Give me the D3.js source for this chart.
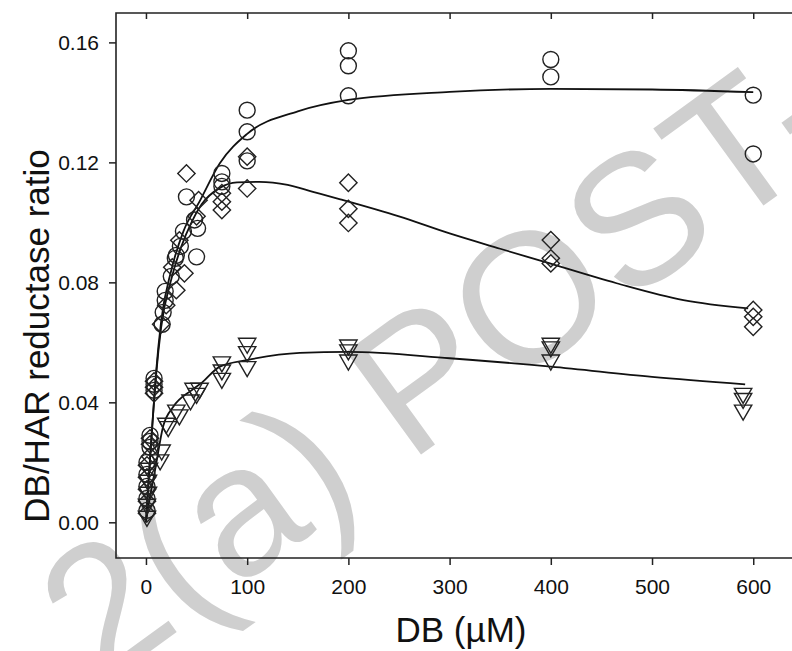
<!DOCTYPE html>
<html>
<head>
<meta charset="utf-8">
<script src="https://cdn.jsdelivr.net/npm/d3@7"></script>
<style>
  body { margin: 0; background: #fff; }
  text { font-family: "Liberation Sans", Arial, sans-serif; }
</style>
</head>
<body>
<div id="chart"></div>
<script>
// measured points, DB concentration (uM) vs DB/HAR reductase ratio
var circlePts = [
  [1,0.004],[1,0.008],[1,0.012],[1,0.016],[1,0.020],
  [4,0.025],[4,0.027],[4,0.029],
  [8,0.044],[8,0.046],[8,0.048],
  [16,0.066],[17,0.070],[19,0.074],[19,0.077],
  [25,0.082],[29,0.088],[30,0.089],[34,0.092],[37,0.097],
  [40,0.1085],[48,0.1008],[51,0.098],[50,0.0885],
  [75,0.1163],[75,0.1135],[75,0.112],
  [100,0.1374],[100,0.1302],[100,0.1205],
  [200,0.1572],[200,0.1522],[200,0.1422],
  [400,0.1543],[400,0.1485],
  [600,0.1424],[600,0.1228]
];
var diamondPts = [
  [1,0.003],[1,0.007],[1,0.011],[1,0.015],[1,0.019],
  [4,0.022],[4,0.026],[4,0.028],
  [8,0.043],[8,0.045],[8,0.047],
  [15,0.066],[20,0.0724],[30,0.0774],[26,0.085],[38,0.083],[33,0.094],
  [40,0.1163],[52,0.1074],[50,0.102],
  [75,0.1097],[75,0.1069],[75,0.1041],
  [100,0.1219],[100,0.1113],
  [200,0.1132],[200,0.1045],[200,0.0998],
  [400,0.0941],[400,0.088],[400,0.0863],
  [600,0.0708],[600,0.0685],[600,0.0652]
];
var trianglePts = [
  [1,0.002],[1,0.006],[2,0.010],[2,0.014],[3,0.018],
  [14,0.0208],[15.5,0.0241],
  [20,0.033],[22,0.0319],[30,0.0374],[33,0.0358],
  [44,0.0408],[47,0.0447],[50,0.043],[53,0.0447],
  [75,0.0535],[75,0.0508],[75,0.048],
  [100,0.0597],[100,0.0569],[100,0.0519],
  [200,0.0591],[200,0.0575],[200,0.0541],
  [400,0.0597],[400,0.0585],[400,0.0541],
  [590,0.043],[590,0.0413],[590,0.0374]
];

// fitted curves
var circleFit = [
  [0,0],[3,0.016],[6,0.031],[10,0.05],[15,0.067],[25,0.084],[37,0.097],[53,0.107],
  [73,0.1197],[100,0.1295],[150,0.137],[200,0.1408],[300,0.1435],[400,0.1445],
  [500,0.1443],[600,0.1434]
];
var diamondFit = [
  [0,0],[3,0.016],[6,0.031],[10,0.049],[15,0.065],[25,0.081],[35,0.092],[45,0.1],
  [55,0.106],[73,0.1115],[90,0.1133],[112,0.1135],[140,0.1125],[165,0.1102],
  [192,0.1077],[250,0.102],[300,0.0963],[350,0.0912],[393,0.0869],[465,0.0797],
  [531,0.0741],[595,0.0713]
];
var triangleFit = [
  [0,0],[4,0.0085],[9,0.0174],[17,0.032],[27,0.0385],[45,0.044],[55,0.0465],
  [73,0.0519],[100,0.0541],[152,0.0565],[200,0.0568],[300,0.0547],[400,0.0519],
  [500,0.0485],[592,0.046]
];

var xTicks = [0, 100, 200, 300, 400, 500, 600];
var yTicks = [0, 0.04, 0.08, 0.12, 0.16];

function drawChart() {
    var W = 792, H = 651;
    var mLeft = 116, mTop = 13, mRight = 800, mBottom = 558;
    var ink = "#222";

    var svg = d3.select("#chart").append("svg")
        .attr("width", W)
        .attr("height", H);

    // watermark behind everything
    svg.append("text")
        .attr("transform", "translate(101,687) rotate(-36)")
        .attr("font-size", 185)
        .attr("fill", "#cfcfcf")
        .text("2(a) POST-");

    var x = d3.scaleLinear().domain([-29.6, 646.2]).range([mLeft, mRight]);
    var y = d3.scaleLinear().domain([-0.0119, 0.1698]).range([mBottom, mTop]);

    // axes
    var xAx = svg.append("g")
        .attr("transform", "translate(0," + mBottom + ")")
        .call(d3.axisBottom(x).tickValues(xTicks).tickSize(7).tickPadding(14).tickFormat(d3.format("d")));
    var xTop = svg.append("g")
        .attr("transform", "translate(0," + mTop + ")")
        .call(d3.axisBottom(x).tickValues(xTicks).tickSize(6).tickFormat(""));
    var yAx = svg.append("g")
        .attr("transform", "translate(" + mLeft + ",0)")
        .call(d3.axisLeft(y).tickValues(yTicks).tickSize(7).tickPadding(10).tickFormat(d3.format(".2f")));

    [xAx, xTop, yAx].forEach(function (g) {
        g.select(".domain").remove();
        g.selectAll("line").attr("stroke", ink).attr("stroke-width", 1.5);
        g.selectAll("text").attr("fill", "#111").attr("font-size", 21)
            .style("font-family", "'Liberation Sans', Arial, sans-serif");
    });

    // frame lines
    svg.append("path")
        .attr("d", "M" + mRight + "," + mTop + "H" + mLeft + "V" + mBottom + "H" + mRight)
        .attr("fill", "none")
        .attr("stroke", ink)
        .attr("stroke-width", 1.6);

    // fit lines
    var line = d3.line()
        .x(function (d) { return x(d[0]); })
        .y(function (d) { return y(d[1]); })
        .curve(d3.curveMonotoneX);

    [circleFit, diamondFit, triangleFit].forEach(function (f) {
        svg.append("path")
            .datum(f)
            .attr("d", line)
            .attr("fill", "none")
            .attr("stroke", "#111")
            .attr("stroke-width", 1.8);
    });

    // markers
    function drawPts(data, sym, size, rot) {
        svg.append("g").selectAll("path")
            .data(data)
            .enter()
            .append("path")
            .attr("transform", function (d) {
                return "translate(" + x(d[0]) + "," + y(d[1]) + ") rotate(" + rot + ")";
            })
            .attr("d", d3.symbol().type(sym).size(size))
            .attr("fill", "none")
            .attr("stroke", ink)
            .attr("stroke-width", 1.4);
    }
    drawPts(circlePts, d3.symbolCircle, 200, 0);
    drawPts(diamondPts, d3.symbolSquare, 150, 45);
    drawPts(trianglePts, d3.symbolTriangle, 130, 180);

    // titles
    svg.append("text")
        .attr("x", 461)
        .attr("y", 642)
        .attr("text-anchor", "middle")
        .attr("font-size", 35)
        .attr("fill", "#111")
        .text("DB (\u00b5M)");

    svg.append("text")
        .attr("transform", "translate(49,336) rotate(-90)")
        .attr("text-anchor", "middle")
        .attr("font-size", 35)
        .attr("fill", "#111")
        .text("DB/HAR reductase ratio");
}

drawChart();
</script>
</body>
</html>
